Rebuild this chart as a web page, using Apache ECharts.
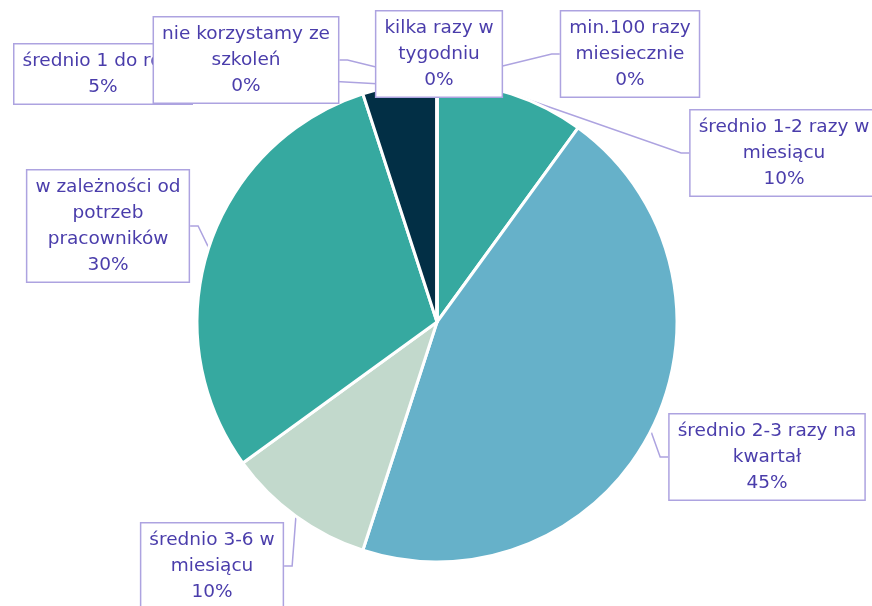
<!DOCTYPE html>
<html>
<head>
<meta charset="utf-8">
<script src="https://cdn.jsdelivr.net/npm/echarts@6/dist/echarts.min.js"></script>
<style>
  html, body { margin: 0; padding: 0; background: #fff; }
  #chart { width: 872px; height: 606px; }
</style>
</head>
<body>
<div id="chart"></div>
<script>
// slice order clockwise from 12 o'clock
const categories = [
  "średnio 1-2 razy w\nmiesiącu",
  "średnio 2-3 razy na\nkwartał",
  "średnio 3-6 w\nmiesiącu",
  "w zależności od\npotrzeb\npracowników",
  "średnio 1 do roku",
  "nie korzystamy ze\nszkoleń",
  "kilka razy w\ntygodniu",
  "min.100 razy\nmiesiecznie"
];
const values = [10, 45, 10, 30, 5, 0, 0, 0];
const colors = ["#36a9a0", "#66b1c9", "#c2d9cc", "#36a9a0", "#022f45", "#36a9a0", "#36a9a0", "#36a9a0"];

// where each callout box sits (centre, px)
const boxPos = [
  [784, 153], [767, 457], [212, 566], [108, 226],
  [103, 74], [246, 60], [439, 54], [630, 54]
];

const chart = echarts.init(document.getElementById("chart"));

const option = {
  animation: false,
  series: [{
    type: "pie",
    center: [437, 322],
    radius: 240,
    startAngle: 90,
    clockwise: true,
    percentPrecision: 0,
    avoidLabelOverlap: false,
    data: categories.map((name, i) => ({
      name: name,
      value: values[i],
      itemStyle: { color: colors[i] }
    })),
    itemStyle: { borderColor: "#fff", borderWidth: 3 },
    label: {
      show: true,
      position: "outside",
      formatter: "{b}\n{d}%",
      fontFamily: "DejaVu Sans",
      fontSize: 18.5,
      lineHeight: 26,
      color: "#4a3dab",
      align: "center",
      backgroundColor: "#fff",
      borderColor: "#ada3e0",
      borderWidth: 1.5,
      padding: [4, 8, 3, 8]
    },
    labelLine: {
      show: true,
      length: 8,
      length2: 8,
      lineStyle: { color: "#ada3e0", width: 1.5 }
    },
    labelLayout: function (params) {
      const p = boxPos[params.dataIndex];
      return { x: p[0], y: p[1], align: "center", verticalAlign: "middle" };
    }
  }]
};

chart.setOption(option);
</script>
</body>
</html>
